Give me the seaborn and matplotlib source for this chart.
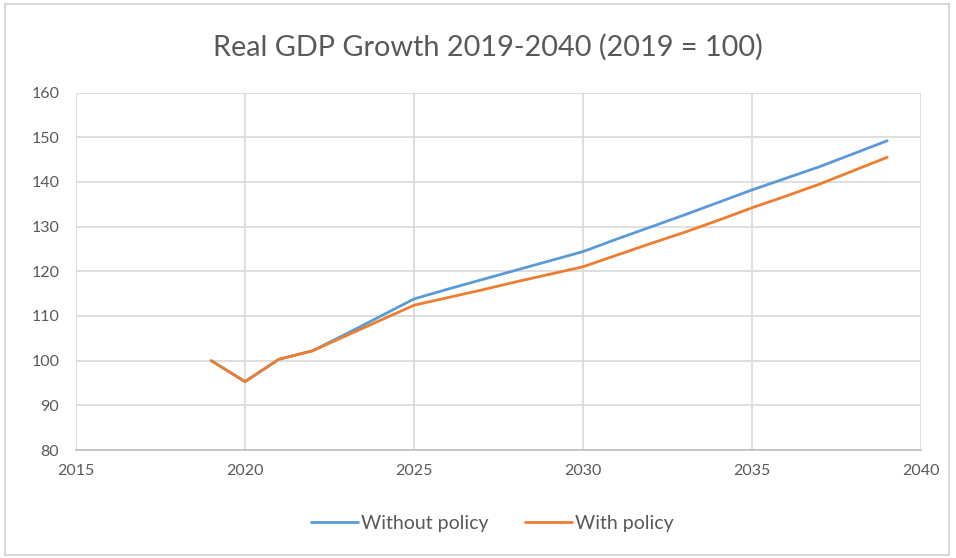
import numpy as np
import pandas as pd
import matplotlib
matplotlib.use("Agg")
import matplotlib.pyplot as plt
import seaborn as sns
from matplotlib.patches import Rectangle

years = list(range(2019, 2040))
without_policy = [100.0, 95.3, 100.3, 102.2, 106.0, 109.9, 113.8, 116.0, 118.1, 120.2, 122.3,
                  124.4, 127.2, 129.9, 132.6, 135.4, 138.2, 140.8, 143.4, 146.3, 149.2]
with_policy = [100.0, 95.3, 100.3, 102.2, 105.6, 109.0, 112.4, 114.1, 115.8, 117.6, 119.3,
               121.0, 123.6, 126.2, 128.7, 131.4, 134.2, 136.8, 139.5, 142.5, 145.5]
series_names = ["Without policy", "With policy"]
colors = ["#5B9BD5", "#ED7D31"]
x_ticks = [2015, 2020, 2025, 2030, 2035, 2040]
y_ticks = [80, 90, 100, 110, 120, 130, 140, 150, 160]
title = "Real GDP Growth 2019-2040 (2019 = 100)"

df = pd.concat([
    pd.DataFrame({"Year": years, "Value": without_policy, "Series": series_names[0]}),
    pd.DataFrame({"Year": years, "Value": with_policy, "Series": series_names[1]}),
])

sns.set_theme(style="white")
plt.rcParams["font.family"] = ["Lato", "DejaVu Sans"]

fig = plt.figure(figsize=(9.56, 5.58), dpi=100)
ax = fig.add_axes([76/956, 1-450/558, (921-76)/956, (450-92.5)/558])

sns.lineplot(data=df, x="Year", y="Value", hue="Series", palette=colors,
             hue_order=series_names, linewidth=2.0, ax=ax)

ax.set_xlim(2015, 2040)
ax.set_ylim(80, 160)
ax.set_xticks(x_ticks)
ax.set_yticks(y_ticks)
ax.grid(True, color="#d9d9d9", linewidth=1.2)
ax.set_axisbelow(True)
for s in ["top", "right", "left"]:
    ax.spines[s].set_visible(False)
ax.spines["bottom"].set_color("#bfbfbf")
ax.spines["bottom"].set_linewidth(1.2)
ax.tick_params(axis="both", length=0, labelsize=11.5, labelcolor="#595959")
ax.tick_params(axis="x", pad=10)
ax.tick_params(axis="y", pad=12)
ax.set_xlabel("")
ax.set_ylabel("")

fig.text(488/956, 1-47/558, title, ha="center", va="center", fontsize=20.8, color="#595959")

handles, labels = ax.get_legend_handles_labels()
ax.legend(handles, labels, loc="center", bbox_to_anchor=(492.5/956, 1-523/558), bbox_transform=fig.transFigure,
          ncol=2, frameon=False, fontsize=14, labelcolor="#595959", handlelength=2.4,
          handletextpad=0.15, columnspacing=1.9)

fig.patches.append(Rectangle((5/956, 3/558), 944/956, 551/558, transform=fig.transFigure,
                             fill=False, edgecolor="#d0d0d0", linewidth=1.2))

fig.savefig("out.png", dpi=100, facecolor="white")
